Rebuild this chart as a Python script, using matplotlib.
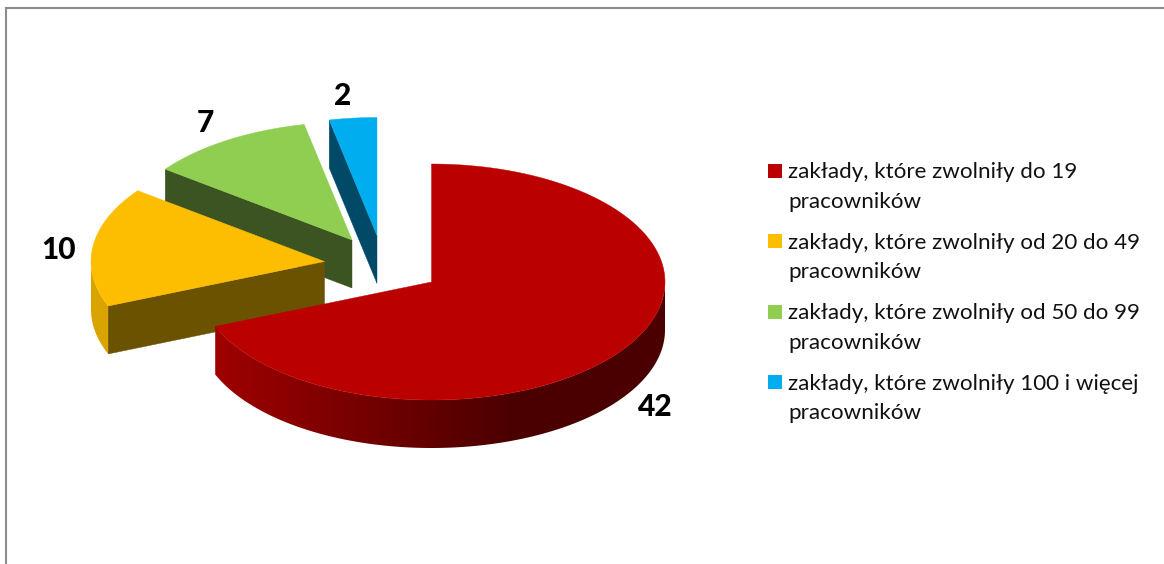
import numpy as np
import matplotlib
matplotlib.use("Agg")
import matplotlib.pyplot as plt
from matplotlib.colors import LinearSegmentedColormap
from matplotlib.patches import Polygon, Rectangle

categories = ["zakłady, które zwolniły do 19\npracowników",
              "zakłady, które zwolniły od 20 do 49\npracowników",
              "zakłady, które zwolniły od 50 do 99\npracowników",
              "zakłady, które zwolniły 100 i więcej\npracowników"]
values = [42, 10, 7, 2]
top_colors = ["#bb0000", "#fdbd00", "#8fce50", "#00aeef"]
side_colors = ["#a00000", "#d9a400", "#3c5322", "#004a68"]
cut_colors = ["#a00000", "#6b5200", "#3c5322", "#004a68"]
centers = [(431.5, 282), (324.5, 261.5), (352, 240), (377, 235.5)]
label_pos = [(655, 407), (59, 250), (205, 123), (343, 96)]

RX, RY, DEPTH = 233.5, 118, 48
plt.rcParams["font.family"] = ["Lato", "DejaVu Sans"]

fig = plt.figure(figsize=(11.64, 5.64), dpi=100)
ax = fig.add_axes([0, 0, 1, 1])
ax.set_xlim(0, 1164)
ax.set_ylim(564, 0)
ax.axis("off")

# chart frame
ax.plot([6, 6, 1164], [564, 7.5, 7.5], color="#8c8c8c", lw=1.5, solid_joinstyle="miter")

def pt(c, deg):
    a = np.radians(deg)
    return c[0] + RX * np.cos(a), c[1] - RY * np.sin(a)

def arc(c, a0, a1, n=200):
    a = np.radians(np.linspace(a0, a1, n))
    return c[0] + RX * np.cos(a), c[1] - RY * np.sin(a)

# start/end angles of the slices, clockwise from 12 o'clock
total = sum(values)
edges = 90 - np.cumsum([0] + values) * 360.0 / total
slices = [(edges[i], edges[i + 1]) for i in range(len(values))]

red_cmap = LinearSegmentedColormap.from_list("rim", ["#a00000", "#4a0000"])

def draw_slice(i, z):
    start, end = slices[i]
    c = centers[i]
    lo, hi = end % 360, start % 360
    if i == 0:
        # rim with a horizontal gradient
        x, y = arc(c, lo, 360, 300)
        poly = Polygon(np.c_[np.r_[x, x[::-1]], np.r_[y, y[::-1] + DEPTH]],
                       closed=True, fc="none", ec="none", zorder=z)
        ax.add_patch(poly)
        grad = np.linspace(0, 1, 256).reshape(1, -1)
        im = ax.imshow(grad, cmap=red_cmap, aspect="auto", interpolation="bilinear",
                       extent=(c[0] - RX + 16, c[0] - RX + 316, y.max() + DEPTH + 1, y.min() - 1),
                       zorder=z)
        im.set_clip_path(poly)
        # flat dark part to the right of the gradient
        right = Rectangle((c[0] - RX + 316, y.min() - 1), 400, y.max() + DEPTH - y.min() + 2,
                          fc="#4a0000", ec="none", zorder=z)
        ax.add_patch(right)
        right.set_clip_path(poly)
        ax.set_xlim(0, 1164)
        ax.set_ylim(564, 0)
    elif i == 1:
        x, y = arc(c, 180, hi)
        ax.add_patch(Polygon(np.c_[np.r_[x, x[::-1]], np.r_[y, y[::-1] + DEPTH]],
                             closed=True, fc=side_colors[i], ec="none", zorder=z))
    if i != 0:
        p = pt(c, hi)
        poly = [c, p, (p[0], p[1] + DEPTH), (c[0], c[1] + DEPTH)]
        ax.add_patch(Polygon(poly, closed=True, fc=cut_colors[i], ec=cut_colors[i], lw=0.3, zorder=z))
    # top face
    x, y = arc(c, start, end, 300)
    ax.add_patch(Polygon(np.c_[np.r_[c[0], x], np.r_[c[1], y]], closed=True,
                         fc=top_colors[i], ec=top_colors[i], lw=0.3, zorder=z + 0.5))

for z, i in enumerate([3, 2, 1, 0]):
    draw_slice(i, z + 1)

# data labels
for v, (lx, ly) in zip(values, label_pos):
    ax.text(lx, ly, str(v), fontsize=21.5, fontweight="black", color="black",
            ha="center", va="center", zorder=10)

# legend
for k, (lab, col) in enumerate(zip(categories, top_colors)):
    y0 = 164 + 70.4 * k
    ax.add_patch(Rectangle((768, y0), 14, 14, fc=col, ec="none", zorder=10))
    l1, l2 = lab.split("\n")
    ax.text(788, y0 + 14.5, l1, fontsize=16.1, color="#111111", va="baseline", ha="left", zorder=10)
    ax.text(788, y0 + 44, l2, fontsize=16.1, color="#111111", va="baseline", ha="left", zorder=10)

fig.savefig("out.png", dpi=100, facecolor="white")
